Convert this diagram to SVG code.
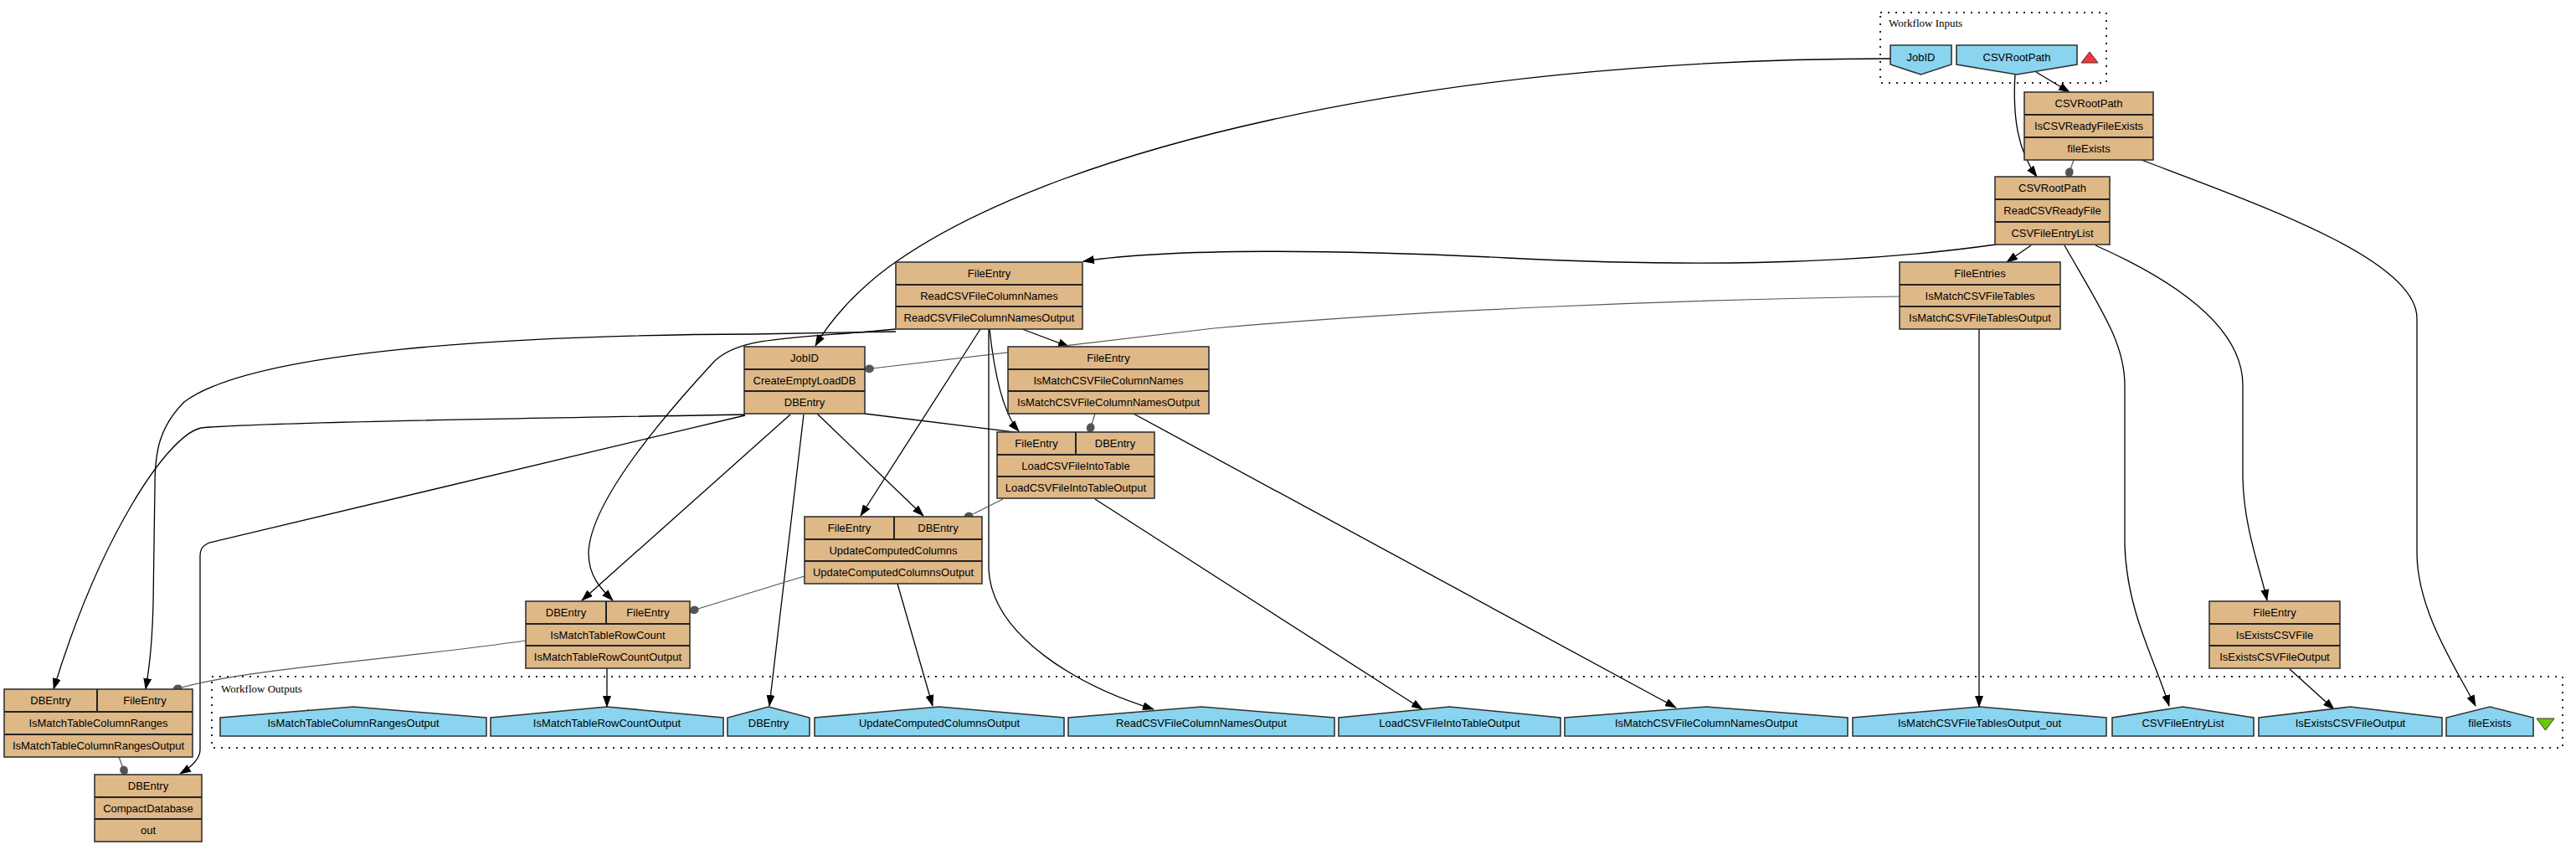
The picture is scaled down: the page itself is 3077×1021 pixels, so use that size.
<svg xmlns="http://www.w3.org/2000/svg" width="3077" height="1021" viewBox="0 0 3077 1021">
<defs>
<style>
.bg{fill:#ffffff}
.proc rect.box{fill:#deb887;stroke:#333;stroke-width:1.6}
.proc line{stroke:#222;stroke-width:2}
.port{fill:#8ad4ef;stroke:#333;stroke-width:1.6}
text{font-family:"Liberation Sans",Arial,sans-serif;font-size:13px;fill:#000;text-anchor:middle}
text.cl{font-family:"Liberation Serif","Times New Roman",serif;text-anchor:start}
.cluster{fill:none;stroke:#222;stroke-width:2;stroke-dasharray:2,7}
.data{fill:none;stroke:#000;stroke-width:1.3;marker-end:url(#arr)}
.ctrl{fill:none;stroke:#555;stroke-width:1.2;marker-end:url(#dot)}
</style>
<marker id="arr" markerWidth="14" markerHeight="10" refX="13" refY="5" orient="auto" markerUnits="userSpaceOnUse"><path d="M0,0 L14,5 L0,10 Z" fill="#000"/></marker>
<marker id="dot" markerWidth="12" markerHeight="12" refX="11" refY="6" orient="auto" markerUnits="userSpaceOnUse"><ellipse cx="5.5" cy="6" rx="5.5" ry="4.8" fill="#555"/></marker>
</defs>
<rect class="bg" x="0" y="0" width="3077" height="1021"/>

<g id="cluster_inputs">
<rect class="cluster" x="2246" y="15" width="270" height="84"/>
<text class="cl" x="2256" y="32">Workflow Inputs</text>
<polygon points="2486,75 2496,62 2506,75" fill="#ff3333" stroke="#333" stroke-width="1"/>
</g>
<g id="cluster_outputs">
<rect class="cluster" x="253" y="808" width="2808" height="85"/>
<text class="cl" x="264" y="827">Workflow Outputs</text>
<polygon points="3030,858 3051,858 3040.5,872" fill="#66cc00" stroke="#333" stroke-width="1"/>
</g>

<g id="connectors">
<path class="data" d="M2258,70 C1700,70 1250,180 1060,320 C1020,350 990,385 974,413"/>
<path class="data" d="M2432,86 L2472,110"/>
<path class="data" d="M2407,88 C2404,140 2410,180 2433,211"/>
<path class="data" d="M2558,191 C2700,245 2887,310 2887,380 L2887,660 C2887,730 2935,800 2957,843"/>
<path class="data" d="M2426,293 L2397,313"/>
<path class="data" d="M2384,292 C2200,318 2000,318 1800,308 C1600,298 1400,296 1294,312"/>
<path class="data" d="M2466,293 C2510,370 2538,410 2538,460 L2538,650 C2540,730 2575,790 2591,843"/>
<path class="data" d="M2503,293 C2620,345 2679,400 2679,460 L2679,570 C2680,630 2700,680 2708,717"/>
<path class="data" d="M2364,393 L2364,844"/>
<path class="data" d="M1221,393 L1277,414"/>
<path class="data" d="M1182,393 C1186,430 1195,490 1217,515"/>
<path class="data" d="M1171,393 L1028,616"/>
<path class="data" d="M1181,393 L1181,680 C1185,760 1290,820 1378,847"/>
<path class="data" d="M1070,393 C950,405 880,400 850,435 C790,500 705,600 703,660 C703,690 720,705 732,717"/>
<path class="data" d="M1070,396 L900,399 C600,400 300,420 220,480 C190,510 185,540 185,580 L183,720 C182,770 178,800 174,823"/>
<path class="data" d="M890,495 C600,500 300,505 240,511 C200,520 120,640 64,823"/>
<path class="data" d="M890,496 L250,648 C242,652 239,655 239,665 L239,895 C239,905 230,915 215,924"/>
<path class="data" d="M944,495 L695,717"/>
<path class="data" d="M960,495 L919,843"/>
<path class="data" d="M976,494 L1103,616"/>
<path class="data" d="M1033,494 L1285,525"/>
<path class="data" d="M1354,494 L2002,845"/>
<path class="data" d="M1308,596 L1699,847"/>
<path class="data" d="M1072,697 L1114,843"/>
<path class="data" d="M725,798 L725,844"/>
<path class="data" d="M2735,799 L2788,847"/>
<polygon points="367.7,846.7 377,856 359.3,863.3" fill="#000"/>
<path class="ctrl" d="M2477,191 L2470,211"/>
<path class="ctrl" d="M2269,354 C2000,358 1700,370 1450,392 L1033,441"/>
<path class="ctrl" d="M1308,494 L1301,516"/>
<path class="ctrl" d="M1198,596 L1152,619"/>
<path class="ctrl" d="M961,688 L824,730"/>
<path class="ctrl" d="M628,765 C450,790 280,800 207,824"/>
<path class="ctrl" d="M142,904 L150,925"/>
</g>

<g id="in_JobID"><path class="port" d="M2258,54 L2331,54 L2331,77 L2294.5,89 L2258,77 Z"/><text x="2294.5" y="73">JobID</text></g>
<g id="in_CSVRootPath"><path class="port" d="M2337,54 L2481,54 L2481,77 L2409,89 L2337,77 Z"/><text x="2409" y="73">CSVRootPath</text></g>

<g id="IsCSVReadyFileExists" class="proc">
<rect class="box" x="2418" y="110" width="154" height="81"/>
<line x1="2418" y1="137" x2="2572" y2="137"/><line x1="2418" y1="164" x2="2572" y2="164"/>
<text x="2495" y="128">CSVRootPath</text><text x="2495" y="155">IsCSVReadyFileExists</text><text x="2495" y="182">fileExists</text>
</g>
<g id="ReadCSVReadyFile" class="proc">
<rect class="box" x="2383" y="211" width="137" height="81"/>
<line x1="2383" y1="238" x2="2520" y2="238"/><line x1="2383" y1="265" x2="2520" y2="265"/>
<text x="2451.5" y="229">CSVRootPath</text><text x="2451.5" y="256">ReadCSVReadyFile</text><text x="2451.5" y="283">CSVFileEntryList</text>
</g>
<g id="IsMatchCSVFileTables" class="proc">
<rect class="box" x="2269" y="313" width="192" height="80"/>
<line x1="2269" y1="340" x2="2461" y2="340"/><line x1="2269" y1="366" x2="2461" y2="366"/>
<text x="2365" y="331">FileEntries</text><text x="2365" y="358">IsMatchCSVFileTables</text><text x="2365" y="384">IsMatchCSVFileTablesOutput</text>
</g>
<g id="ReadCSVFileColumnNames" class="proc">
<rect class="box" x="1070" y="313" width="223" height="80"/>
<line x1="1070" y1="340" x2="1293" y2="340"/><line x1="1070" y1="366" x2="1293" y2="366"/>
<text x="1181.5" y="331">FileEntry</text><text x="1181.5" y="358">ReadCSVFileColumnNames</text><text x="1181.5" y="384">ReadCSVFileColumnNamesOutput</text>
</g>
<g id="CreateEmptyLoadDB" class="proc">
<rect class="box" x="889" y="414" width="144" height="80"/>
<line x1="889" y1="441" x2="1033" y2="441"/><line x1="889" y1="467" x2="1033" y2="467"/>
<text x="961" y="432">JobID</text><text x="961" y="459">CreateEmptyLoadDB</text><text x="961" y="485">DBEntry</text>
</g>
<g id="IsMatchCSVFileColumnNames" class="proc">
<rect class="box" x="1204" y="414" width="240" height="80"/>
<line x1="1204" y1="441" x2="1444" y2="441"/><line x1="1204" y1="467" x2="1444" y2="467"/>
<text x="1324" y="432">FileEntry</text><text x="1324" y="459">IsMatchCSVFileColumnNames</text><text x="1324" y="485">IsMatchCSVFileColumnNamesOutput</text>
</g>
<g id="LoadCSVFileIntoTable" class="proc">
<rect class="box" x="1191" y="516" width="188" height="79"/>
<line x1="1191" y1="543" x2="1379" y2="543"/><line x1="1191" y1="569" x2="1379" y2="569"/><line x1="1285" y1="516" x2="1285" y2="543"/>
<text x="1238" y="534">FileEntry</text><text x="1332" y="534">DBEntry</text><text x="1285" y="561">LoadCSVFileIntoTable</text><text x="1285" y="587">LoadCSVFileIntoTableOutput</text>
</g>
<g id="UpdateComputedColumns" class="proc">
<rect class="box" x="961" y="617" width="212" height="80"/>
<line x1="961" y1="644" x2="1173" y2="644"/><line x1="961" y1="670" x2="1173" y2="670"/><line x1="1068" y1="617" x2="1068" y2="644"/>
<text x="1014.5" y="635">FileEntry</text><text x="1120.5" y="635">DBEntry</text><text x="1067" y="662">UpdateComputedColumns</text><text x="1067" y="688">UpdateComputedColumnsOutput</text>
</g>
<g id="IsMatchTableRowCount" class="proc">
<rect class="box" x="628" y="718" width="196" height="80"/>
<line x1="628" y1="745" x2="824" y2="745"/><line x1="628" y1="771" x2="824" y2="771"/><line x1="724" y1="718" x2="724" y2="745"/>
<text x="676" y="736">DBEntry</text><text x="774" y="736">FileEntry</text><text x="726" y="763">IsMatchTableRowCount</text><text x="726" y="789">IsMatchTableRowCountOutput</text>
</g>
<g id="IsExistsCSVFile" class="proc">
<rect class="box" x="2639" y="718" width="156" height="80"/>
<line x1="2639" y1="745" x2="2795" y2="745"/><line x1="2639" y1="771" x2="2795" y2="771"/>
<text x="2717" y="736">FileEntry</text><text x="2717" y="763">IsExistsCSVFile</text><text x="2717" y="789">IsExistsCSVFileOutput</text>
</g>
<g id="IsMatchTableColumnRanges" class="proc">
<rect class="box" x="5" y="823" width="225" height="81"/>
<line x1="5" y1="850" x2="230" y2="850"/><line x1="5" y1="877" x2="230" y2="877"/><line x1="116" y1="823" x2="116" y2="850"/>
<text x="60.5" y="841">DBEntry</text><text x="173" y="841">FileEntry</text><text x="117.5" y="868">IsMatchTableColumnRanges</text><text x="117.5" y="895">IsMatchTableColumnRangesOutput</text>
</g>
<g id="CompactDatabase" class="proc">
<rect class="box" x="113" y="925" width="128" height="80"/>
<line x1="113" y1="952" x2="241" y2="952"/><line x1="113" y1="978" x2="241" y2="978"/>
<text x="177" y="943">DBEntry</text><text x="177" y="970">CompactDatabase</text><text x="177" y="996">out</text>
</g>

<g id="out_IsMatchTableColumnRangesOutput"><path class="port" d="M263,879 L263,857 L422,844 L581,857 L581,879 Z"/><text x="422" y="868">IsMatchTableColumnRangesOutput</text></g>
<g id="out_IsMatchTableRowCountOutput"><path class="port" d="M586,879 L586,857 L725,844 L864,857 L864,879 Z"/><text x="725" y="868">IsMatchTableRowCountOutput</text></g>
<g id="out_DBEntry"><path class="port" d="M869,879 L869,857 L918,844 L967,857 L967,879 Z"/><text x="918" y="868">DBEntry</text></g>
<g id="out_UpdateComputedColumnsOutput"><path class="port" d="M973,879 L973,857 L1122,844 L1271,857 L1271,879 Z"/><text x="1122" y="868">UpdateComputedColumnsOutput</text></g>
<g id="out_ReadCSVFileColumnNamesOutput"><path class="port" d="M1276,879 L1276,857 L1435,844 L1594,857 L1594,879 Z"/><text x="1435" y="868">ReadCSVFileColumnNamesOutput</text></g>
<g id="out_LoadCSVFileIntoTableOutput"><path class="port" d="M1599,879 L1599,857 L1731.5,844 L1864,857 L1864,879 Z"/><text x="1731.5" y="868">LoadCSVFileIntoTableOutput</text></g>
<g id="out_IsMatchCSVFileColumnNamesOutput"><path class="port" d="M1869,879 L1869,857 L2038,844 L2207,857 L2207,879 Z"/><text x="2038" y="868">IsMatchCSVFileColumnNamesOutput</text></g>
<g id="out_IsMatchCSVFileTablesOutput_out"><path class="port" d="M2213,879 L2213,857 L2364.5,844 L2516,857 L2516,879 Z"/><text x="2364.5" y="868">IsMatchCSVFileTablesOutput_out</text></g>
<g id="out_CSVFileEntryList"><path class="port" d="M2523,879 L2523,857 L2607.5,844 L2692,857 L2692,879 Z"/><text x="2607.5" y="868">CSVFileEntryList</text></g>
<g id="out_IsExistsCSVFileOutput"><path class="port" d="M2698,879 L2698,857 L2807.5,844 L2917,857 L2917,879 Z"/><text x="2807.5" y="868">IsExistsCSVFileOutput</text></g>
<g id="out_fileExists"><path class="port" d="M2922,879 L2922,857 L2974,844 L3026,857 L3026,879 Z"/><text x="2974" y="868">fileExists</text></g>
</svg>
